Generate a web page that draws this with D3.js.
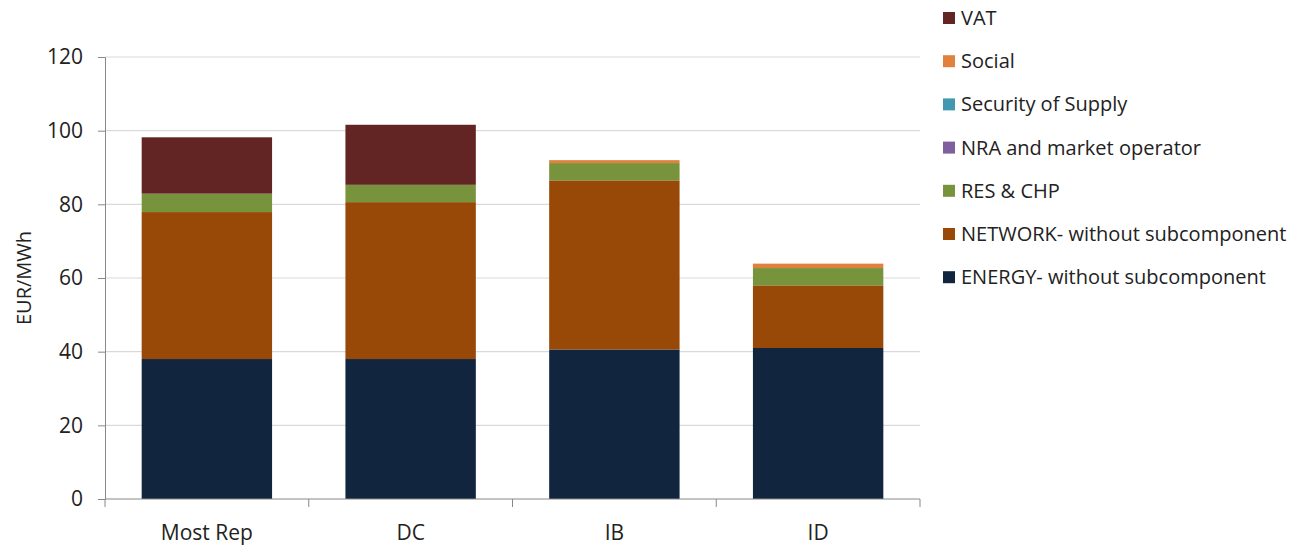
<!DOCTYPE html>
<html>
<head>
<meta charset="utf-8">
<script src="https://cdn.jsdelivr.net/npm/d3@7"></script>
<style>
  body { margin: 0; background: #fff; }
  svg text { font-family: "Open Sans", "Noto Sans", sans-serif; fill: #222; }
</style>
</head>
<body>
<div id="chart"></div>
<script>
// Categorias e séries (EUR/MWh)
const categories = ["Most Rep", "DC", "IB", "ID"];
const seriesNames = ["ENERGY- without subcomponent", "NETWORK- without subcomponent", "RES & CHP",
  "NRA and market operator", "Security of Supply", "Social", "VAT"];
const energy = [38.0, 38.0, 40.6, 41.0];
const network = [39.9, 42.6, 45.9, 17.0];
const resChp = [5.0, 4.7, 4.7, 4.7];
const nra = [0, 0, 0, 0];
const security = [0, 0, 0, 0];
const social = [0, 0, 0.8, 1.2];
const vat = [15.3, 16.3, 0, 0];
const yTicks = [0, 20, 40, 60, 80, 100, 120];

const colors = ["#11253f", "#984807", "#77933c", "#7f5f9e", "#4198af", "#e0823d", "#632523"];
const seriesValues = [energy, network, resChp, nra, security, social, vat];

const width = 1308, height = 548;
const margin = { top: 57, right: 388, bottom: 49, left: 105 };

const svg = d3.select("#chart").append("svg")
  .attr("width", width)
  .attr("height", height);

// Tabela para o d3.stack
const table = categories.map((c, i) => {
  const row = { cat: c };
  seriesNames.forEach((s, k) => row[s] = seriesValues[k][i]);
  return row;
});
const stacked = d3.stack().keys(seriesNames)(table);

const x = d3.scaleBand().domain(categories)
  .range([margin.left, width - margin.right])
  .paddingInner(0.36).paddingOuter(0.18);
const y = d3.scaleLinear().domain([0, 120])
  .range([height - margin.bottom, margin.top]);

// Linhas de grade
svg.append("g").selectAll("line")
  .data(yTicks.slice(1))
  .enter().append("line")
  .attr("x1", margin.left).attr("x2", width - margin.right)
  .attr("y1", d => y(d)).attr("y2", d => y(d))
  .attr("stroke", "#d9d9d9").attr("stroke-width", 1.2);

// Barras empilhadas
svg.append("g").selectAll("g")
  .data(stacked)
  .enter().append("g")
  .attr("fill", (d, i) => colors[i])
  .selectAll("rect")
  .data(d => d)
  .enter().append("rect")
  .attr("x", d => x(d.data.cat))
  .attr("width", x.bandwidth())
  .attr("y", d => y(d[1]))
  .attr("height", d => y(d[0]) - y(d[1]));

// Eixo Y
const yAxis = svg.append("g")
  .attr("transform", `translate(${margin.left},0)`)
  .call(d3.axisLeft(y).tickValues(yTicks).tickSize(7).tickPadding(15));
yAxis.select(".domain").attr("stroke", "#888");
yAxis.selectAll(".tick line").attr("stroke", "#888");
yAxis.selectAll("text").style("font-size", "21px").attr("fill", "#222");

// Eixo X com marcas nas divisões das categorias
const x0 = height - margin.bottom;
svg.append("line")
  .attr("x1", margin.left).attr("x2", width - margin.right)
  .attr("y1", x0).attr("y2", x0)
  .attr("stroke", "#888");
const bounds = d3.range(categories.length + 1).map(i => margin.left + i * (width - margin.left - margin.right) / categories.length);
svg.append("g").selectAll("line")
  .data(bounds)
  .enter().append("line")
  .attr("x1", d => d).attr("x2", d => d)
  .attr("y1", x0).attr("y2", x0 + 8)
  .attr("stroke", "#888");
svg.append("g").selectAll("text")
  .data(categories)
  .enter().append("text")
  .attr("x", d => x(d) + x.bandwidth() / 2)
  .attr("y", x0 + 41)
  .attr("text-anchor", "middle")
  .style("font-size", "21px")
  .text(d => d);

// Título do eixo Y
svg.append("text")
  .attr("transform", `translate(31,${(margin.top + x0) / 2}) rotate(-90)`)
  .attr("text-anchor", "middle")
  .style("font-size", "20px")
  .text("EUR/MWh");

// Legenda (ordem inversa, VAT no topo)
const legend = svg.append("g").selectAll("g")
  .data(seriesNames.map((s, i) => ({ name: s, color: colors[i] })).reverse())
  .enter().append("g")
  .attr("transform", (d, i) => `translate(943,${18 + i * 43.2})`);
legend.append("rect")
  .attr("x", 0).attr("y", -6)
  .attr("width", 12).attr("height", 12)
  .attr("fill", d => d.color);
legend.append("text")
  .attr("x", 18).attr("y", 7)
  .style("font-size", "20px")
  .text(d => d.name);
</script>
</body>
</html>
